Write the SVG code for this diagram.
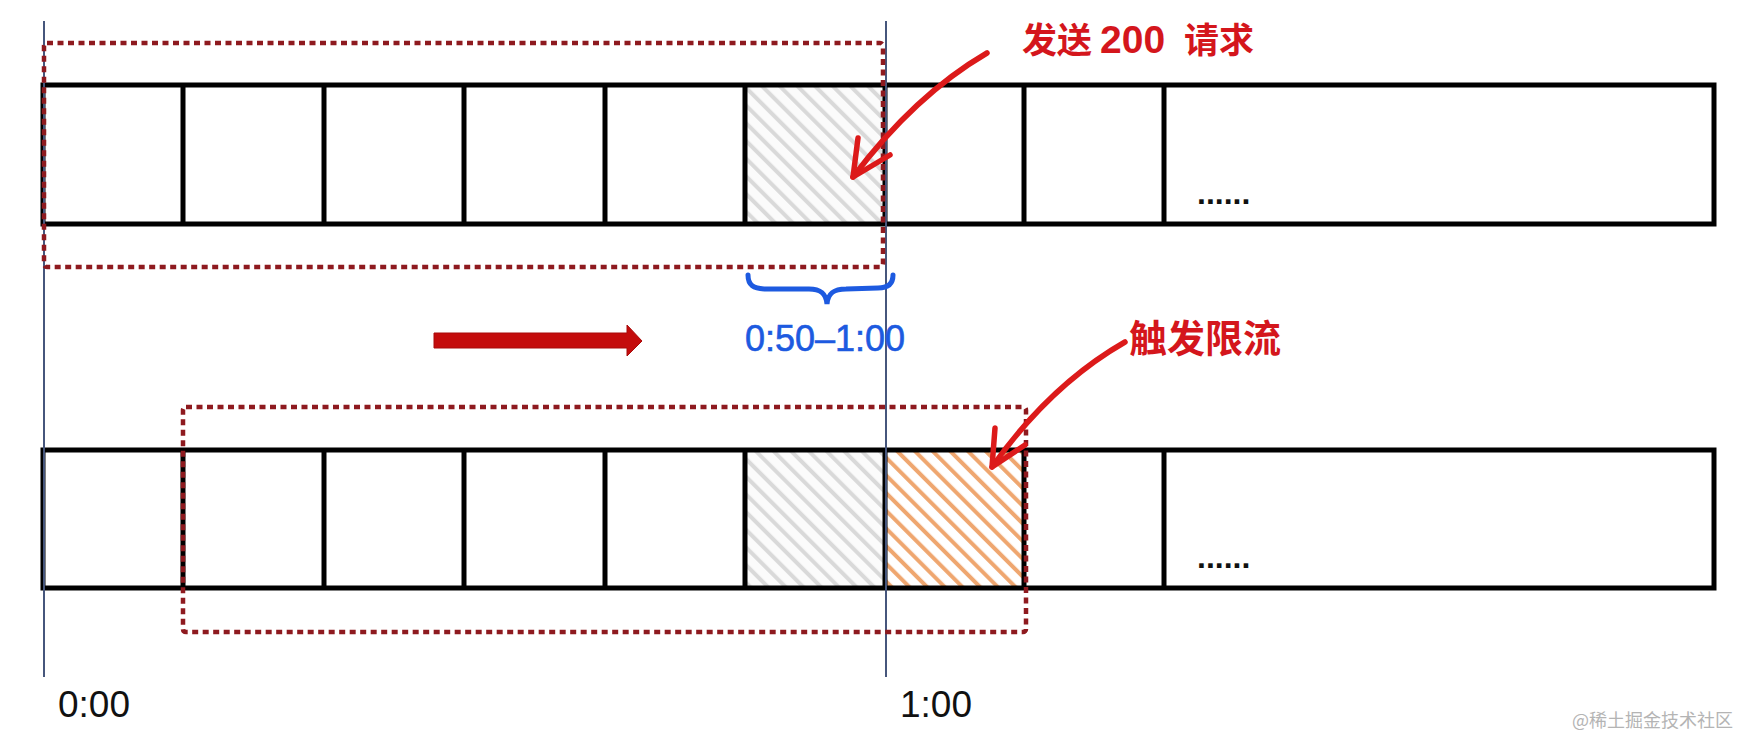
<svg xmlns="http://www.w3.org/2000/svg" width="1754" height="752" viewBox="0 0 1754 752">
<style>
.cell{fill:none;stroke:#000;stroke-width:5}
.tick{stroke:#46567c;stroke-width:2}
.win{fill:none;stroke:#8e1a1f;stroke-width:4.5;stroke-dasharray:6 4.5}
.hand{fill:none;stroke:#dc1a1a;stroke-width:5.5;stroke-linecap:round;stroke-linejoin:round}
.red{font-family:"Noto Sans CJK SC","Liberation Sans",sans-serif;font-weight:bold;fill:#d4161c}
.time{font-family:"Liberation Sans",Arial,sans-serif;font-size:37px;fill:#111}
.dots{font-family:"Liberation Sans",Arial,sans-serif;font-weight:bold;font-size:32px;fill:#111}
</style>
<defs>
<pattern id="hatchGray" width="12.5" height="12.5" patternUnits="userSpaceOnUse" patternTransform="rotate(-45)">
<rect width="12.5" height="12.5" fill="#fbfbfb"/>
<line x1="3" y1="0" x2="3" y2="12.5" stroke="#d9d9d9" stroke-width="4"/>
</pattern>
<pattern id="hatchOrange" width="12.5" height="12.5" patternUnits="userSpaceOnUse" patternTransform="rotate(-45)">
<rect width="12.5" height="12.5" fill="#fff"/>
<line x1="3" y1="0" x2="3" y2="12.5" stroke="#efa66f" stroke-width="4"/>
</pattern>
</defs>
<rect width="1754" height="752" fill="#fff"/>

<g id="bar-top">
<rect x="745" y="85" width="140" height="139" fill="url(#hatchGray)"/>
<rect class="cell" x="43" y="85" width="1671" height="139"/>
<path class="cell" d="M183,85V224M324,85V224M464,85V224M605,85V224M745,85V224M885,85V224M1024,85V224M1164,85V224"/>
<text class="dots" x="1197" y="204">......</text>
</g>

<g id="bar-bottom">
<rect x="745" y="450" width="140" height="138" fill="url(#hatchGray)"/>
<rect x="885" y="450" width="139" height="138" fill="url(#hatchOrange)"/>
<rect class="cell" x="43" y="450" width="1671" height="138"/>
<path class="cell" d="M183,450V588M324,450V588M464,450V588M605,450V588M745,450V588M885,450V588M1024,450V588M1164,450V588"/>
<text class="dots" x="1197" y="568">......</text>
</g>

<g id="time-markers">
<line class="tick" x1="44" y1="21" x2="44" y2="677"/>
<line class="tick" x1="886" y1="21" x2="886" y2="677"/>
<text class="time" x="58" y="717">0:00</text>
<text class="time" x="900" y="717">1:00</text>
</g>

<g id="window-top">
<rect class="win" x="44" y="43" width="839" height="224" rx="3"/>
</g>
<g id="window-bottom">
<rect class="win" x="183" y="407" width="843" height="225" rx="3"/>
</g>

<g id="span-label">
<path d="M748,275 C748,285 753,289 767,289 L809,289 C820,289 826,293 827,304 C828,293 834,289 846,289 L878,288 C889,288 893,283 893,275" fill="none" stroke="#1d5ae0" stroke-width="5" stroke-linecap="round"/>
<text x="825" y="351" text-anchor="middle" font-family="'Liberation Sans',Arial,sans-serif" font-size="36" fill="#1d5ae0" stroke="#1d5ae0" stroke-width="0.6">0:50–1:00</text>
</g>

<g id="shift-arrow">
<polygon points="434,333 627,333 627,325 642,341 627,356 627,348 434,348" fill="#c40c0c" stroke="#a80a0a" stroke-width="1"/>
</g>

<g id="label-send">
<text class="red" font-size="35" y="53"><tspan x="1022">发送 </tspan><tspan x="1100" style="font-family:'Liberation Sans',Arial,sans-serif;font-size:39px">200 </tspan><tspan x="1184">请求</tspan></text>
</g>
<g id="label-limit">
<text class="red" font-size="38" x="1129" y="352">触发限流</text>
</g>

<g id="connectors">
<path class="hand" d="M987,53 Q915,95 853,177"/>
<path class="hand" d="M858,138 L853,177 L890,155"/>
<path class="hand" d="M1125,342 Q1050,385 992,467"/>
<path class="hand" d="M995,428 L992,467 L1025,445"/>
</g>

<text x="1572" y="727" font-family="'Noto Sans CJK SC',sans-serif" font-size="18" fill="#b4b4b4">@稀土掘金技术社区</text>
</svg>
